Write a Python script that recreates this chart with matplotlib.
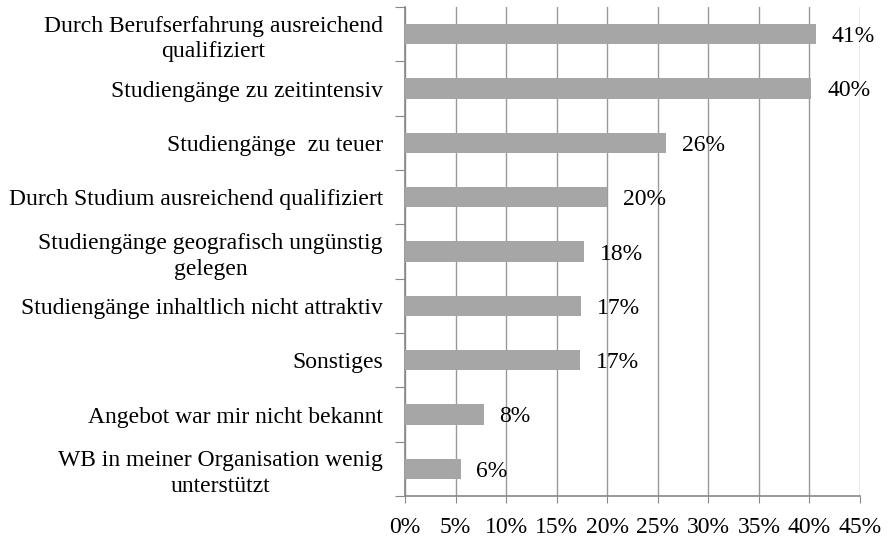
import numpy as np
import matplotlib
matplotlib.use('Agg')
import matplotlib.pyplot as plt
from matplotlib.ticker import FixedLocator, PercentFormatter

categories = [
    'Durch Berufserfahrung ausreichend\nqualifiziert',
    'Studiengänge zu zeitintensiv',
    'Studiengänge  zu teuer',
    'Durch Studium ausreichend qualifiziert',
    'Studiengänge geografisch ungünstig\ngelegen',
    'Studiengänge inhaltlich nicht attraktiv',
    'Sonstiges',
    'Angebot war mir nicht bekannt',
    'WB in meiner Organisation wenig\nunterstützt',
]
values = [40.6, 40.2, 25.8, 20.0, 17.7, 17.4, 17.3, 7.8, 5.5]
value_labels = ['41%', '40%', '26%', '20%', '18%', '17%', '17%', '8%', '6%']
xticks = [0, 5, 10, 15, 20, 25, 30, 35, 40, 45]


def main():
    plt.rcParams['font.family'] = ['Liberation Serif', 'DejaVu Serif']
    fig = plt.figure(figsize=(8.91, 5.37), dpi=100)
    ax = fig.add_axes([405 / 891, 1 - 496 / 537, 455 / 891, 489 / 537])

    n = len(categories)
    pos = np.arange(n)
    ax.barh(pos, values, height=0.375, color='#a6a6a6', zorder=3)

    for p, v, lab in zip(pos, values, value_labels):
        ax.text(v + 1.55, p, lab, va='center_baseline', ha='left', fontsize=17, zorder=4)

    ax.set_xlim(0, 45)
    ax.set_ylim(n - 0.5, -0.5)
    ax.set_xticks(xticks)
    ax.xaxis.set_major_formatter(PercentFormatter(decimals=0))
    ax.tick_params(axis='x', labelsize=17, length=5, color='#888888', pad=10)

    # boundary ticks like Excel, labels at centres
    ax.yaxis.set_major_locator(FixedLocator(np.arange(-0.5, n, 1.0)))
    ax.yaxis.set_major_formatter(plt.NullFormatter())
    ax.yaxis.set_minor_locator(FixedLocator(pos))
    ax.set_yticklabels(categories, minor=True, fontsize=17, ha='right',
                       multialignment='center', linespacing=1.3)
    ax.tick_params(axis='y', which='major', length=7, color='#888888')
    ax.tick_params(axis='y', which='minor', length=0, pad=16)

    ax.grid(axis='x', color='#999999', linewidth=1, zorder=0)
    for s in ['top', 'right']:
        ax.spines[s].set_visible(False)
    for s in ['left', 'bottom']:
        ax.spines[s].set_color('#888888')
        ax.spines[s].set_linewidth(1.2)

    fig.savefig('out.png', dpi=100)


if __name__ == '__main__':
    main()
